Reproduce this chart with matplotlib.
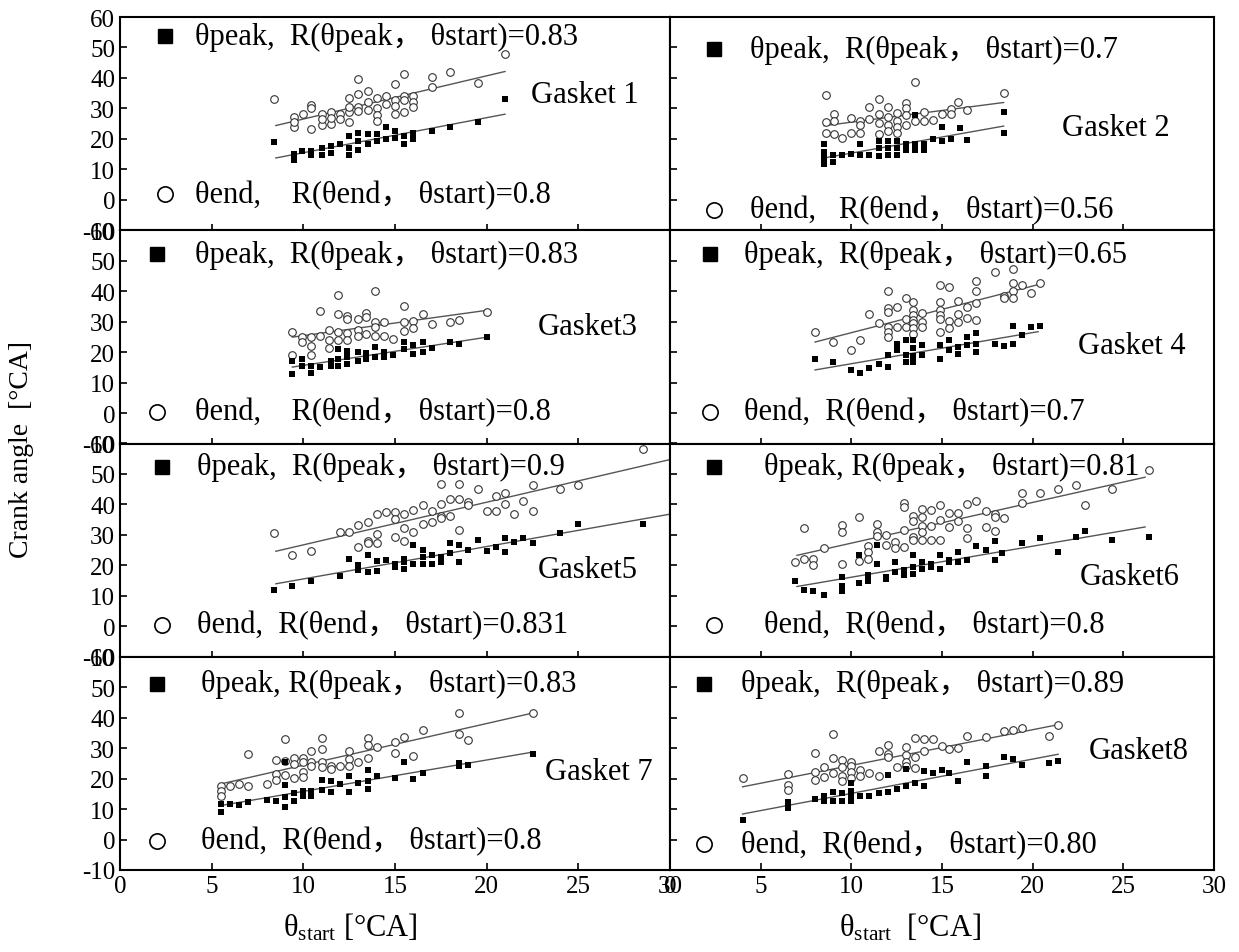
import numpy as np
import matplotlib.pyplot as plt

plt.rcParams['font.family'] = ['Liberation Serif', 'Noto Sans CJK SC', 'DejaVu Sans']
plt.rcParams['mathtext.fontset'] = 'custom'
plt.rcParams['mathtext.rm'] = 'Liberation Serif'
plt.rcParams['mathtext.it'] = 'Liberation Serif'
plt.rcParams['axes.unicode_minus'] = False

# (theta_start, theta_peak) and (theta_start, theta_end)
g1_peak = [(8.4, 19.1), (9.5, 13.0), (9.5, 15.0), (9.9, 16.0), (10.4, 16.0), (10.4, 14.8), (11.0, 14.8),
           (11.0, 17.0), (11.5, 15.4), (11.5, 17.6), (12.0, 18.2), (12.5, 14.8), (12.5, 17.0), (12.5, 21.0),
           (13.0, 16.5), (13.0, 19.3), (13.0, 22.0), (13.5, 18.2), (13.5, 21.6), (14.0, 19.3), (14.0, 21.6),
           (14.5, 19.9), (14.5, 23.8), (15.0, 20.4), (15.0, 22.7), (15.5, 18.2), (15.5, 21.0), (16.0, 19.9),
           (16.0, 22.0), (17.0, 22.7), (18.0, 23.8), (19.5, 25.5), (21.0, 33.0)]
g1_end = [(8.4, 33), (9.5, 27.2), (9.5, 23.8), (9.5, 25.5), (10.0, 28.3), (10.4, 31), (10.4, 30), (10.4, 23.3),
          (11.0, 28.3), (11.0, 24.4), (11.0, 26.6), (11.5, 28.9), (11.5, 24.9), (11.5, 27), (12.0, 28.3),
          (12.0, 26.6), (12.5, 33.4), (12.5, 28.9), (12.5, 25.5), (12.5, 30.6), (13.0, 39.8), (13.0, 34.8),
          (13.0, 30.6), (13.0, 29.2), (13.5, 35.6), (13.5, 32.2), (13.5, 29.4), (14.0, 33.4), (14.0, 30),
          (14.0, 27.8), (14.0, 26), (14.5, 34.2), (14.5, 31.5), (15.0, 37.9), (15.0, 32.8), (15.0, 30.8),
          (15.0, 28.3), (15.5, 41.2), (15.5, 34.2), (15.5, 32.8), (15.5, 28.9), (16.0, 34.2), (16.0, 32.2),
          (16.0, 30.6), (17.0, 40.4), (17.0, 37), (18.0, 41.8), (19.5, 38.2), (21.0, 48)]

g2_peak = [(8.5, 18.2), (8.5, 15.7), (8.5, 13.7), (8.5, 11.7), (9.0, 14.8), (9.0, 12.4), (9.5, 14.8), (10.0, 15),
           (10.5, 18.2), (10.5, 14.8), (11.0, 14.8), (11.5, 19.3), (11.5, 17), (11.5, 14.3), (12.0, 19.3),
           (12.0, 17), (12.0, 14.8), (12.5, 19.3), (12.5, 17), (12.5, 14.8), (13.0, 18.2), (13.0, 16.5),
           (13.5, 27.8), (13.5, 18.2), (13.5, 16.5), (14.0, 18.2), (14.0, 16.5), (14.5, 19.9), (15.0, 24),
           (15.0, 19.3), (15.5, 20.1), (16.0, 23.6), (16.4, 19.6), (18.4, 28.9), (18.4, 22)]
g2_end = [(8.6, 34.5), (8.6, 25.5), (8.6, 21.8), (9.05, 28.3), (9.05, 26), (9.05, 21.6), (9.5, 20.2), (10, 27),
          (10, 22), (10.5, 26), (10.5, 24.4), (10.5, 21.8), (11, 30.3), (11, 26.6), (11.5, 33), (11.5, 28.3),
          (11.5, 25.2), (11.5, 21.6), (12, 30.3), (12, 27.2), (12, 24.7), (12, 22.7), (12.5, 28.5), (12.5, 26),
          (12.5, 23.8), (12.5, 22), (13, 31.7), (13, 30), (13, 27.8), (13, 24.7), (13.5, 38.6), (13.5, 26),
          (14, 28.9), (14, 26), (14.5, 26.3), (15, 28.3), (15.5, 29.8), (15.5, 28.3), (15.9, 32), (16.4, 29.4),
          (18.4, 35)]

g3_peak = [(9.4, 12.8), (9.4, 17.2), (9.9, 15.6), (9.9, 17.8), (10.4, 13.3), (10.4, 15.6), (10.9, 15),
           (11.5, 15.6), (11.5, 17), (11.9, 15.6), (11.9, 17.8), (11.9, 21.1), (12.4, 16.1), (12.4, 18.3),
           (12.4, 20.3), (13, 17.2), (13, 20), (13.4, 17.8), (13.4, 19.7), (13.9, 18.3), (13.9, 21.7),
           (14.4, 18.3), (14.4, 20), (14.9, 18.9), (15.5, 21.1), (15.5, 23.3), (16, 19.4), (16, 22.2),
           (16.5, 20), (16.5, 23.3), (17, 21.4), (18, 23.3), (18.5, 22.8), (20, 24.8)]
g3_end = [(9.4, 26.7), (9.4, 19.2), (9.9, 24.8), (9.9, 23.3), (10.4, 24.8), (10.4, 21.9), (10.4, 19.2),
          (10.9, 33.6), (10.9, 25.2), (11.4, 27.4), (11.4, 24.1), (11.4, 21.4), (11.9, 38.6), (11.9, 32.6),
          (11.9, 26.7), (11.9, 23.9), (12.4, 31.9), (12.4, 30.8), (12.4, 26.3), (12.4, 23.9), (13, 30.8),
          (13, 27.4), (13, 25.2), (13.4, 32.8), (13.4, 31.4), (13.4, 25.9), (13.9, 40), (13.9, 30), (13.9, 28.1),
          (13.9, 25.2), (14.4, 30), (14.4, 25.2), (14.9, 24.4), (15.5, 35.2), (15.5, 30), (15.5, 26.9),
          (16, 30.3), (16, 27.8), (16.5, 32.6), (17, 29.2), (18, 30), (18.5, 30.6), (20, 33.3)]

g4_peak = [(8, 17.8), (9, 16.7), (10, 14.1), (10.5, 13), (11, 14.8), (11.5, 16.1), (12, 15), (12, 18.9),
           (12.5, 22.8), (12.5, 20.6), (13, 23.9), (13, 18.9), (13, 16.7), (13.4, 23.9), (13.4, 21.4),
           (13.4, 18.6), (13.4, 16.7), (13.9, 22.2), (13.9, 19.2), (14.9, 22.2), (14.9, 17.8), (15.4, 23.9),
           (15.4, 20.6), (15.9, 21.7), (15.9, 19.4), (16.4, 24.8), (16.4, 22.2), (16.9, 26.3), (16.9, 22.8),
           (16.9, 20), (17.9, 22.8), (18.4, 21.9), (18.9, 28.6), (18.9, 22.8), (19.4, 25.6), (19.9, 28.3),
           (20.4, 28.7)]
g4_end = [(8, 26.7), (9, 23.3), (10, 20.8), (10.5, 24.1), (11, 32.4), (11.5, 29.4), (12, 40.2), (12, 34.4),
          (12, 33.3), (12, 28.3), (12, 26.7), (12, 24.8), (12.5, 34.8), (12.5, 28.3), (13, 37.8), (13, 30.8),
          (13, 28.1), (13.4, 36.3), (13.4, 33.9), (13.4, 32.2), (13.4, 30.6), (13.4, 29.4), (13.4, 27.8),
          (13.4, 26.1), (13.9, 33), (13.9, 30), (13.9, 28.1), (14.9, 41.9), (14.9, 36.3), (14.9, 33.9),
          (14.9, 32.2), (14.9, 30.8), (14.9, 26.7), (15.4, 41.4), (15.4, 30.3), (15.4, 27.8), (15.9, 36.7),
          (15.9, 32.4), (15.9, 30), (16.4, 34.8), (16.4, 31.1), (16.9, 43.3), (16.9, 40), (16.9, 36.1),
          (16.9, 30.6), (17.9, 46.3), (18.4, 38.3), (18.4, 37.6), (18.9, 47.2), (18.9, 42.6), (18.9, 40),
          (18.9, 37.6), (19.4, 41.9), (19.9, 39.4), (20.4, 42.8)]

g5_peak = [(8.4, 11.9), (9.4, 13.3), (10.4, 15), (12, 16.4), (12.5, 22.2), (13, 18.6), (13, 20), (13.5, 17.8),
           (13.5, 23.3), (14, 18.3), (14, 21.4), (14.5, 21.7), (15, 19.4), (15, 20.6), (15.5, 18.9), (15.5, 21.1),
           (15.5, 22.2), (16, 26.7), (16, 20.6), (16.5, 25), (16.5, 20.6), (16.5, 22.8), (17, 23.3), (17, 20.6),
           (17.5, 22.8), (17.5, 21.1), (18, 27.2), (18, 23.9), (18.5, 26.7), (18.5, 21.1), (19, 25), (19.5, 28.3),
           (20, 24.7), (20.5, 26.1), (21, 29.1), (21, 24.4), (21.5, 27.6), (22, 29.1), (22.5, 27.2), (24, 30.6),
           (25, 33.7), (28.5, 33.7)]
g5_end = [(8.4, 30.6), (9.4, 23.3), (10.4, 24.8), (12, 31.1), (12.5, 31.1), (13, 33.3), (13, 26.1), (13.5, 34.1),
          (13.5, 28.1), (13.5, 27.2), (14, 37), (14, 30.3), (14, 27.2), (14.5, 37.4), (15, 37.4), (15, 35.2),
          (15, 29.4), (15.5, 37), (15.5, 32.2), (15.5, 28.1), (16, 38.1), (16, 31.1), (16.5, 39.7), (16.5, 33.7),
          (17, 37.8), (17, 34.1), (17.5, 46.7), (17.5, 40.3), (17.5, 36.1), (17.5, 35.6), (18, 41.9), (18, 36.1),
          (18.5, 46.7), (18.5, 41.9), (18.5, 31.7), (19, 40.8), (19, 39.7), (19.5, 45), (20, 37.8), (20.5, 42.8),
          (20.5, 37.8), (21, 43.9), (21, 40), (21.5, 37), (22, 41.1), (22.5, 46.3), (22.5, 37.8), (24, 45.2),
          (25, 46.3), (28.5, 58.3)]

g6_peak = [(6.9, 14.8), (7.4, 11.9), (7.9, 11.7), (8.5, 10.3), (9.5, 16.3), (9.5, 13.3), (9.5, 11.7), (10.4, 14.1),
           (10.4, 23.3), (10.9, 16.9), (10.9, 14.8), (11.4, 26.7), (11.4, 20.6), (11.9, 16.3), (11.9, 15.6),
           (12.4, 21.1), (12.4, 17.8), (12.9, 18.6), (12.9, 16.7), (13.4, 23.3), (13.4, 19.4), (13.4, 17),
           (13.9, 21.1), (13.9, 18.9), (14.4, 20.6), (14.4, 19.4), (14.9, 23.3), (14.9, 18.9), (15.4, 21.1),
           (15.4, 21.7), (15.9, 24.4), (15.9, 21.1), (16.4, 21.7), (16.9, 26.3), (17.4, 25.2), (17.9, 28.1),
           (17.9, 21.7), (18.3, 23.9), (19.4, 27.2), (20.4, 29.1), (21.4, 24.4), (22.4, 29.4), (22.9, 31.4),
           (24.4, 28.3), (26.4, 29.4)]
g6_end = [(6.9, 21.1), (7.4, 32.2), (7.4, 22.2), (7.9, 22.2), (7.9, 20), (8.5, 25.6), (9.5, 33.3), (9.5, 30.8),
          (9.5, 20.6), (10.4, 35.9), (10.4, 21.4), (10.9, 26.3), (10.9, 24.4), (10.9, 22.2), (11.4, 33.7),
          (11.4, 30.8), (11.4, 29.7), (11.9, 30), (11.9, 26.7), (12.4, 27.8), (12.4, 25.6), (12.9, 40.6),
          (12.9, 39.2), (12.9, 31.7), (12.9, 26.1), (13.4, 36.3), (13.4, 34.4), (13.4, 29.2), (13.4, 28.3),
          (13.9, 38.6), (13.9, 35.9), (13.9, 33), (13.9, 30.8), (13.9, 28.3), (14.4, 38.3), (14.4, 32.8),
          (14.4, 28.3), (14.9, 39.7), (14.9, 34.8), (14.9, 28.3), (15.4, 37.2), (15.4, 32.6), (15.9, 37.2),
          (15.9, 34.4), (16.4, 40.3), (16.4, 32.2), (16.4, 28.9), (16.9, 41.1), (17.4, 37.8), (17.4, 32.6),
          (17.9, 37), (17.9, 35.9), (17.9, 31.4), (18.4, 35.6), (19.4, 43.9), (19.4, 40.6), (20.4, 43.9),
          (21.4, 45), (22.4, 46.3), (22.9, 39.7), (24.4, 45.2), (26.4, 51.4)]

g7_peak = [(5.5, 9.1), (5.5, 11.7), (6, 11.7), (6.5, 11.5), (7, 12.3), (8, 13.1), (8.5, 12.8), (9, 10.7), (9, 13.8),
           (9, 18), (9, 25.4), (9.5, 12.5), (9.5, 15.2), (10, 14.4), (10, 15.9), (10.4, 14.4), (10.4, 15.9),
           (11, 16.2), (11, 19.6), (11.5, 15.6), (11.5, 19.1), (12, 18.3), (12.5, 15.6), (12.5, 20.9), (13, 18.6),
           (13.5, 16.5), (13.5, 19.1), (13.5, 22.7), (14, 20.9), (15, 20.1), (15.5, 25.4), (16, 19.8), (16.5, 21.9),
           (18.5, 24.3), (18.5, 25), (19, 24.6), (22.5, 28)]
g7_end = [(5.5, 17.5), (5.5, 15.9), (5.5, 14.4), (6, 17.5), (6.5, 18.3), (7, 28), (7, 17.5), (8, 18.3), (8.5, 26.1),
          (8.5, 21.5), (8.5, 19.6), (9, 33), (9, 25.9), (9, 21.2), (9.5, 26.9), (9.5, 24.8), (9.5, 20.1), (10, 26.9),
          (10, 25.4), (10, 22.2), (10, 20.6), (10.4, 29.2), (10.4, 25.4), (10.4, 24), (11, 33.4), (11, 29.6),
          (11, 25.4), (11, 23.8), (11.5, 24.3), (11.5, 23), (12, 24.3), (12.5, 29.2), (12.5, 26.4), (12.5, 24.3),
          (13, 25.4), (13.5, 33.4), (13.5, 31.1), (13.5, 26.7), (14, 30.3), (15, 32), (15, 28.5), (15.5, 33.8),
          (16, 27.5), (16.5, 35.8), (18.5, 41.6), (18.5, 34.5), (19, 32.7), (22.5, 41.6)]

g8_peak = [(4, 6.5), (6.5, 12.3), (6.5, 10.4), (8, 13.3), (8.5, 14.4), (8.5, 12.8), (9, 15.6), (9, 12.8), (9.5, 15.4),
           (9.5, 12.5), (10, 18.6), (10, 15.9), (10, 14.4), (10, 12.5), (10.5, 14.4), (11, 14.4), (11.5, 15.4),
           (12, 21.2), (12, 15.6), (12.5, 16.7), (13, 23), (13, 17.7), (13.5, 18.6), (14, 17.5), (14, 22.5),
           (14.5, 21.7), (15, 22.7), (15.4, 21.9), (15.9, 19.1), (16.4, 25.4), (17.4, 24.3), (17.4, 20.9),
           (18.4, 27.1), (18.9, 26.4), (19.4, 24.6), (20.9, 25.1), (21.4, 25.9)]
g8_end = [(4, 20.3), (6.5, 21.5), (6.5, 18), (6.5, 16.2), (8, 28.5), (8, 22.2), (8, 19.6), (8.5, 23.8), (8.5, 20.6),
          (9, 34.5), (9, 26.9), (9, 21.9), (9.5, 26.1), (9.5, 23.8), (9.5, 20.9), (9.5, 19.1), (10, 25.4),
          (10, 24.3), (10, 22.2), (10, 20.1), (10.5, 22.7), (10.5, 20.9), (11, 21.9), (11.5, 29.2), (11.5, 20.9),
          (12, 30.9), (12, 28), (12, 27.1), (12.5, 23.8), (13, 30.3), (13, 27.8), (13, 25.4), (13, 24.3),
          (13.5, 27.1), (13.5, 23.6), (13.5, 33.4), (14, 33), (14, 29.2), (14.5, 33), (15, 30.6), (15.4, 29.6),
          (15.9, 30.1), (16.4, 34), (17.4, 33.8), (18.4, 35.5), (18.9, 36.1), (19.4, 36.6), (20.9, 34), (21.4, 37.6)]

peaks = [g1_peak, g2_peak, g3_peak, g4_peak, g5_peak, g6_peak, g7_peak, g8_peak]
ends = [g1_end, g2_end, g3_end, g4_end, g5_end, g6_end, g7_end, g8_end]
# x extent of the drawn fit lines
fit_span = [(8.5, 21.0), (8.5, 18.4), (9.4, 20.0), (8.0, 20.3), (8.5, 30.0), (7.0, 26.2), (5.5, 22.5), (4.0, 21.4)]

gasket_names = ['Gasket 1', 'Gasket 2', 'Gasket3', 'Gasket 4', 'Gasket5', 'Gasket6', 'Gasket 7', 'Gasket8']
peak_labels = ['θpeak,  R(θpeak， θstart)=0.83', 'θpeak,  R(θpeak， θstart)=0.7',
               'θpeak,  R(θpeak， θstart)=0.83', 'θpeak,  R(θpeak， θstart)=0.65',
               'θpeak,  R(θpeak， θstart)=0.9', 'θpeak, R(θpeak， θstart)=0.81',
               'θpeak, R(θpeak， θstart)=0.83', 'θpeak,  R(θpeak， θstart)=0.89']
end_labels = ['θend,    R(θend， θstart)=0.8', 'θend,   R(θend， θstart)=0.56',
              'θend,    R(θend， θstart)=0.8', 'θend,  R(θend， θstart)=0.7',
              'θend,  R(θend， θstart)=0.831', 'θend,  R(θend， θstart)=0.8',
              'θend,  R(θend， θstart)=0.8', 'θend,  R(θend， θstart)=0.80']

# layout of the in-panel legend text (data coords): marker x, text x, peak row y, end row y, gasket label x, y
leg_pos = [(2.45, 4.1, 53.7, 1.8, 22.4, 34.7),
           (2.4, 4.4, 49.5, -3.2, 21.6, 23.8),
           (2.0, 4.1, 52.1, 0.5, 22.8, 28.4),
           (2.2, 4.1, 52.1, 0.5, 22.5, 22.2),
           (2.3, 4.2, 52.4, 0.5, 22.8, 18.6),
           (2.4, 5.2, 52.4, 0.5, 22.6, 16.2),
           (2.0, 4.4, 51.1, -0.5, 23.2, 22.2),
           (1.9, 3.9, 51.1, -1.5, 23.1, 29.1)]

fig = plt.figure(figsize=(12.39, 9.53), dpi=100)
W, H = 1239.0, 953.0
col_left = [120, 670]
col_w = [550, 544]
top, row_h = 18, 213.25

for i in range(8):
    r, c = divmod(i, 2)
    ax = fig.add_axes([col_left[c] / W, 1 - (top + (r + 1) * row_h) / H, col_w[c] / W, row_h / H])
    pk = np.array(peaks[i])
    en = np.array(ends[i])

    xs = np.array(fit_span[i])
    for d in (pk, en):
        k, b = np.polyfit(d[:, 0], d[:, 1], 1)
        ax.plot(xs, k * xs + b, color='#555555', lw=1.0, zorder=1)

    ax.scatter(en[:, 0], en[:, 1], s=30, facecolors='white', edgecolors='#333333', linewidths=0.8, zorder=2)
    ax.scatter(pk[:, 0], pk[:, 1], s=24, marker='s', color='black', linewidths=0, zorder=3)

    mx, tx, py, ey, gx, gy = leg_pos[i]
    ax.plot([mx], [py], marker='s', ms=10, color='black', ls='none')
    ax.plot([mx], [ey], marker='o', ms=11, mfc='white', mec='black', mew=1.2, ls='none')
    ax.text(tx, py, peak_labels[i], fontsize=22, va='center', ha='left')
    ax.text(tx, ey, end_labels[i], fontsize=22, va='center', ha='left')
    ax.text(gx, gy, gasket_names[i], fontsize=22, va='center', ha='left')

    ax.set_xlim(0, 30)
    ax.set_ylim(-10, 60)
    ax.set_xticks(range(0, 31, 5))
    ax.set_yticks(range(-10, 61, 10))
    ax.tick_params(axis='both', direction='in', length=5, width=1.2, labelsize=18,
                   labelleft=(c == 0), labelbottom=(r == 3))
    if r < 3:
        ax.tick_params(axis='x', direction='inout', length=9)
    for s in ax.spines.values():
        s.set_linewidth(1.5)

fig.text(22 / W, 1 - 450 / H, 'Crank angle  [°CA]', rotation=90, va='center', ha='center', fontsize=20)
fig.text(350 / W, 1 - 928 / H, r'$\mathrm{\theta}_{\mathrm{start}}$ [°CA]', ha='center', va='center', fontsize=22)
fig.text(910 / W, 1 - 928 / H, r'$\mathrm{\theta}_{\mathrm{start}}$  [°CA]', ha='center', va='center', fontsize=22)

fig.savefig('out.png', dpi=100)
